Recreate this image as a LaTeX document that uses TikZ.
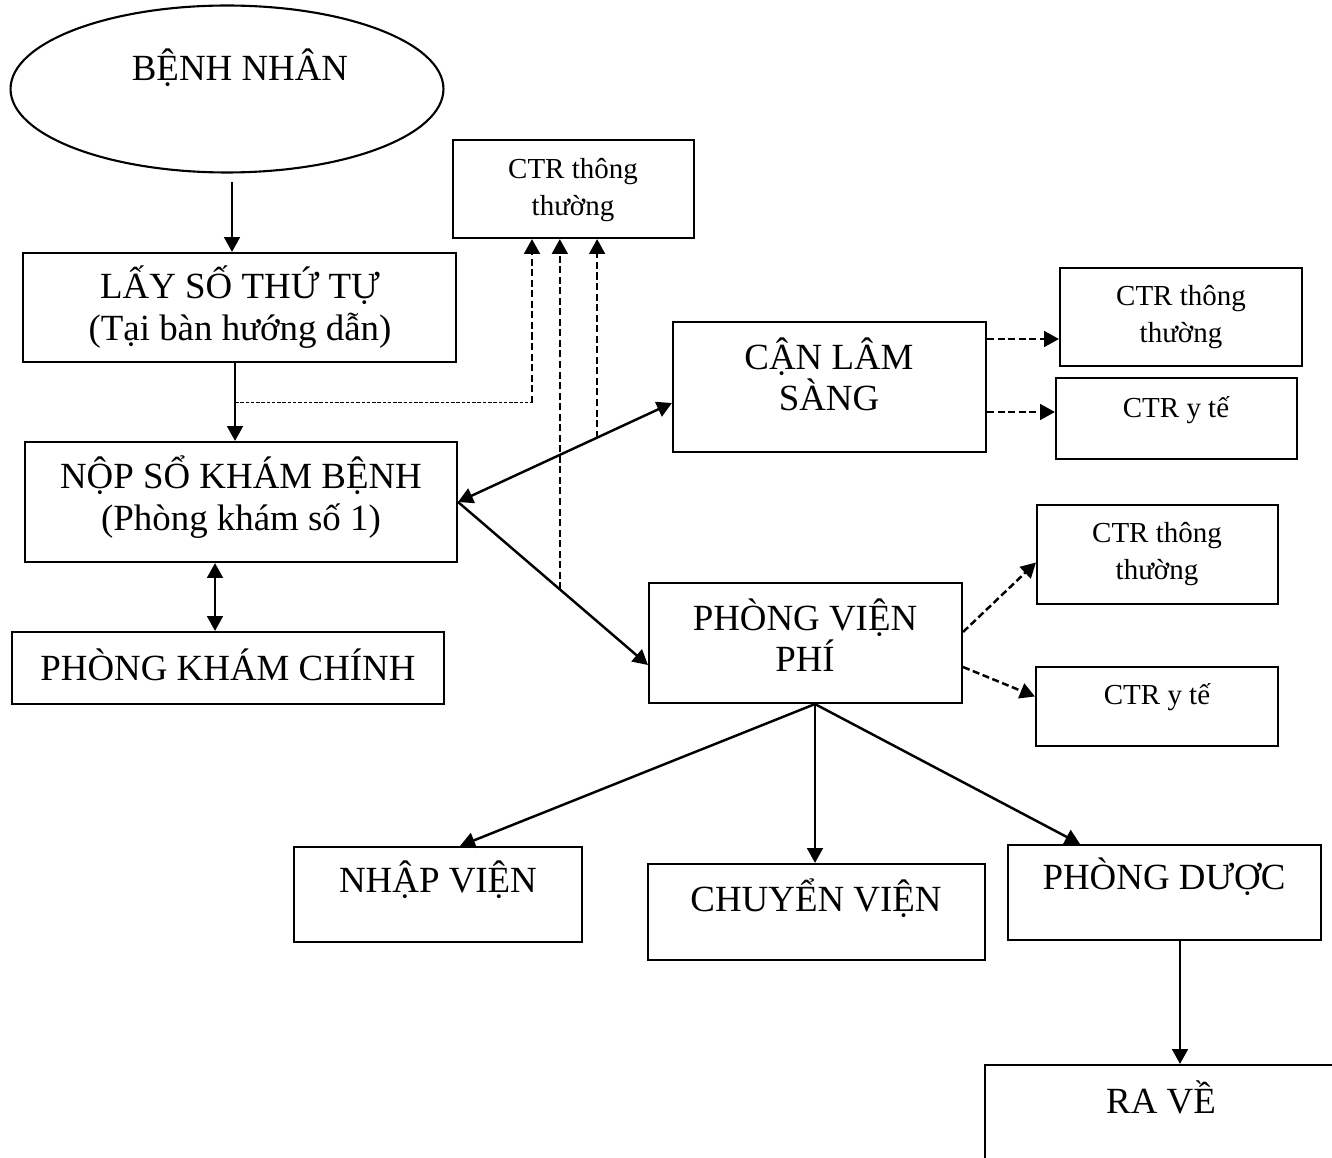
\documentclass[tikz,border=0pt]{standalone}
\usepackage{fontspec}
\setmainfont{Liberation Serif}
\usetikzlibrary{arrows.meta,shapes.geometric,fit}
\newcommand{\bigtxt}{\fontsize{21}{23.5}\selectfont}
\newcommand{\smalltxt}{\fontsize{16.5}{21}\selectfont}
\tikzset{
  box/.style={draw, line width=1.2pt, inner sep=0pt},
  big/.style={align=center, font=\bigtxt, inner sep=0pt},
  small/.style={align=center, font=\smalltxt, inner sep=0pt},
  tip/.style={-{Triangle[length=8.5pt,width=9pt]}},
  arr/.style={line width=1.4pt, tip},
  twoway/.style={line width=1.4pt, {Triangle[length=8.5pt,width=9pt]}-{Triangle[length=8.5pt,width=9pt]}},
  dasharr/.style={line width=1.4pt, dash pattern=on 4pt off 2pt, tip},
  fine/.style={line width=0.7pt, dash pattern=on 2pt off 1pt},
}
\begin{document}
\begin{tikzpicture}[x=0.02cm, y=-0.02cm]
  % page
  \useasboundingbox (0,0) rectangle (1332,1158);
  \clip (0,0) rectangle (1332,1158);
  % boxes
  \node[ellipse, draw, line width=1.2pt, inner sep=0pt, minimum width=8.66cm, minimum height=3.34cm] (benhnhan) at (227,89) {};
  \node[box, fit={(23,253) (456,362)}] (lay) {};
  \node[box, fit={(453,140) (694,238)}] (ctrtop) {};
  \node[box, fit={(25,442) (457,562)}] (nop) {};
  \node[box, fit={(12,632) (444,704)}] (pkc) {};
  \node[box, fit={(673,322) (986,452)}] (cls) {};
  \node[box, fit={(1060,268) (1302,366)}] (clsthuong) {};
  \node[box, fit={(1056,378) (1297,459)}] (clsyte) {};
  \node[box, fit={(649,583) (962,703)}] (pvp) {};
  \node[box, fit={(1037,505) (1278,604)}] (pvpthuong) {};
  \node[box, fit={(1036,667) (1278,746)}] (pvpyte) {};
  \node[box, fit={(294,847) (582,942)}] (nhap) {};
  \node[box, fit={(648,864) (985,960)}] (chuyen) {};
  \node[box, fit={(1008,845) (1321,940)}] (duoc) {};
  \node[box, fit={(985,1065) (1345,1175)}] (rave) {};
  % texts
  \node[big] (benhnhantxt) at (240,68) {BỆNH NHÂN};
  \node[big] (laytxt) at (240,307) {LẤY SỐ THỨ TỰ\\(Tại bàn hướng dẫn)};
  \node[small] (ctrtoptxt) at (573,190) {CTR thông\\thường};
  \node[big] (noptxt) at (241,497) {NỘP SỔ KHÁM BỆNH\\(Phòng khám số 1)};
  \node[big] (pkctxt) at (228,665) {PHÒNG KHÁM CHÍNH};
  \node[big] (clstxt) at (829,374) {CẬN LÂM\\SÀNG};
  \node[small] (clsthuongtxt) at (1181,317) {CTR thông\\thường};
  \node[small] (clsytetxt) at (1176,410) {CTR y tế};
  \node[big] (pvptxt) at (805,635) {PHÒNG VIỆN\\PHÍ};
  \node[small] (pvpthuongtxt) at (1157,554) {CTR thông\\thường};
  \node[small] (pvpytetxt) at (1157,697) {CTR y tế};
  \node[big] (nhaptxt) at (438,880) {NHẬP VIỆN};
  \node[big] (chuyentxt) at (816,898) {CHUYỂN VIỆN};
  \node[big] (duoctxt) at (1164,877) {PHÒNG DƯỢC};
  \node[big] (ravetxt) at (1161,1097) {RA VỀ};
  % main flow
  \draw[arr] ([shift={(5,8)}]benhnhan.south) -- (lay.north -| 232,0);
  \draw[arr] (lay.south -| 235,0) -- (nop.north -| 235,0) coordinate[pos=0.51] (tap1);
  \draw[twoway] (nop.east) -- ([shift={(0,16)}]cls.west) coordinate[pos=0.65] (tap3);
  \draw[arr] (nop.east) -- ([shift={(0,22)}]pvp.west) coordinate[pos=0.536] (tap2);
  \draw[twoway] (nop.south -| 215,0) -- (pkc.north -| 215,0);
  % waste to the top box
  \draw[fine] (tap1) -- (tap1 -| 532,0) coordinate (bend1);
  \draw[dasharr] (bend1) -- (ctrtop.south -| bend1);
  \draw[dasharr] (tap2) -- (ctrtop.south -| tap2);
  \draw[dasharr] (tap3) -- (ctrtop.south -| tap3);
  % waste on the right
  \draw[dasharr] (cls.east |- 0,339) -- (clsthuong.west |- 0,339);
  \draw[dasharr] (cls.east |- 0,412) -- (clsyte.west |- 0,412);
  \draw[dasharr] ([shift={(0,-11)}]pvp.east) -- ([shift={(0,8)}]pvpthuong.west);
  \draw[dasharr] ([shift={(0,24)}]pvp.east) -- ([shift={(0,-10)}]pvpyte.west);
  % after payment
  \coordinate (fork) at (pvp.south -| 815,0);
  \draw[arr] (fork) -- (nhap.north -| 460,0);
  \draw[arr] (fork) -- (chuyen.north -| fork);
  \draw[arr] (fork) -- (duoc.north -| 1080,0);
  \draw[arr] (duoc.south -| 1180,0) -- (rave.north -| 1180,0);
\end{tikzpicture}
\end{document}
